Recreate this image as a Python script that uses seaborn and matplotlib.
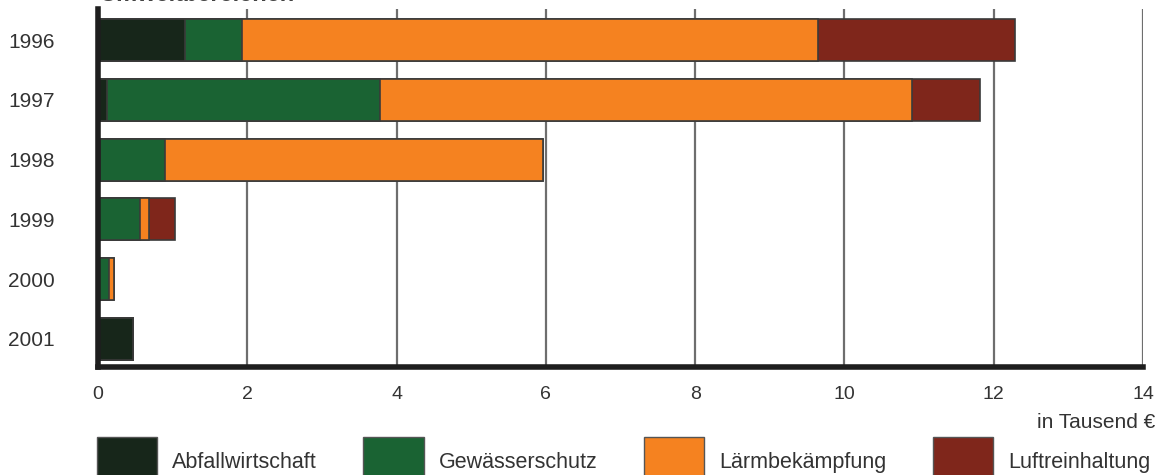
import matplotlib
matplotlib.use("Agg")
import matplotlib.pyplot as plt
import seaborn as sns
import numpy as np
import pandas as pd

# Ausgaben nach Umweltbereichen (in Tausend €)
years = ["1996", "1997", "1998", "1999", "2000", "2001"]
abfall = [1.16, 0.12, 0.03, 0.0, 0.0, 0.47]
gewaesser = [0.77, 3.66, 0.87, 0.56, 0.15, 0.0]
laerm = [7.71, 7.12, 5.06, 0.12, 0.07, 0.0]
luft = [2.65, 0.91, 0.0, 0.35, 0.0, 0.0]

categories = ["Abfallwirtschaft", "Gewässerschutz", "Lärmbekämpfung", "Luftreinhaltung"]
colors = ["#17261a", "#1a6333", "#f58220", "#7f261b"]
x_ticks = [0, 2, 4, 6, 8, 10, 12, 14]

sns.set_theme(style="white")
plt.rcParams["font.family"] = ["Liberation Sans", "DejaVu Sans"]

fig = plt.figure(figsize=(11.6, 4.75), dpi=100)
ax = fig.add_axes([98 / 1160, 108 / 475, 1045 / 1160, 358 / 475])

series = [abfall, gewaesser, laerm, luft]
cum = np.cumsum(np.array(series), axis=0)

# stacked bars: draw cumulative totals from the outermost segment inwards
for i in range(len(categories) - 1, -1, -1):
    df = pd.DataFrame({"year": years, "value": cum[i]})
    sns.barplot(data=df, x="value", y="year", orient="h", color=colors[i],
                width=0.7, edgecolor="#3a3a3a", linewidth=1.2,
                saturation=1, ax=ax, zorder=3)

ax.set_xlim(0, 14)
ax.set_ylim(5.47, -0.52)
ax.set_xticks(x_ticks)
ax.set_xticklabels([str(t) for t in x_ticks])
ax.set_xlabel("")
ax.set_ylabel("")

# vertical grid lines
for t in x_ticks[1:]:
    ax.axvline(t, color="#6e6e6e", lw=1.6, zorder=1)

for s in ["top", "right"]:
    ax.spines[s].set_visible(False)
ax.spines["left"].set_color("#1e1e1e")
ax.spines["left"].set_linewidth(4)
ax.spines["bottom"].set_color("#1e1e1e")
ax.spines["bottom"].set_linewidth(4)
ax.spines["left"].set_zorder(5)
ax.spines["bottom"].set_zorder(5)

ax.tick_params(axis="x", length=0, pad=14, labelsize=14, colors="#333333")
ax.tick_params(axis="y", length=0, pad=31, labelsize=15, colors="#333333")

fig.text(1155 / 1160, 1 - 422 / 475, "in Tausend €", ha="right", va="center",
         fontsize=15, color="#333333")

# chart heading, mostly above the top edge of the canvas
fig.text(100 / 1160, 1 - 1.2 / 475, "Umweltbereichen", ha="left", va="baseline",
         fontsize=17, fontweight="bold", color="#444444")

handles = [matplotlib.patches.Patch(facecolor=c, edgecolor="#555555", linewidth=1.0)
           for c in colors]
fig.legend(handles, categories, loc="upper left", ncol=4,
           bbox_to_anchor=(97 / 1160, 38 / 475), frameon=False,
           fontsize=15.5, handlelength=2.8, handleheight=3.2,
           handletextpad=0.7, columnspacing=2.15, borderpad=0,
           borderaxespad=0, labelcolor="#333333")

fig.savefig("out.png", dpi=100)
